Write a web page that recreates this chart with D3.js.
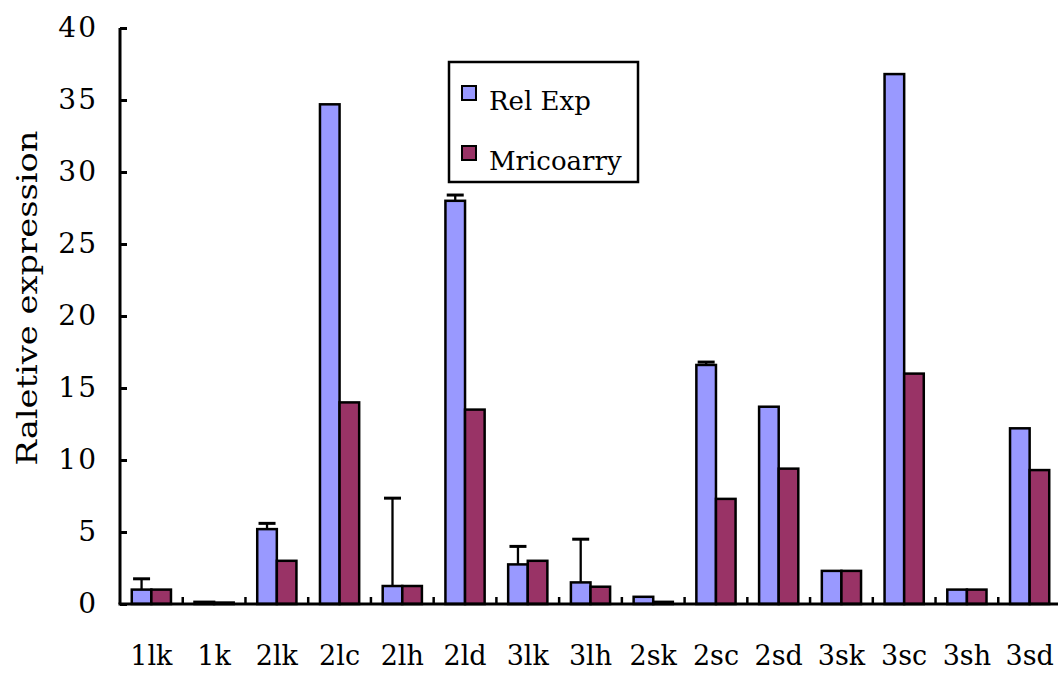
<!DOCTYPE html>
<html>
<head>
<meta charset="utf-8">
<script src="https://cdn.jsdelivr.net/npm/d3@7"></script>
<style>
  html, body { margin: 0; padding: 0; background: #fff; }
  svg { display: block; }
</style>
</head>
<body>
<svg id="chart" width="1058" height="673"></svg>
<script>
const categories = ["1lk", "1k", "2lk", "2lc", "2lh", "2ld", "3lk", "3lh", "2sk", "2sc", "2sd", "3sk", "3sc", "3sh", "3sd"];
const seriesNames = ["Rel Exp", "Mricoarry"];
const relExp = [1.0, 0.15, 5.2, 34.7, 1.25, 28.0, 2.75, 1.5, 0.5, 16.6, 13.7, 2.3, 36.8, 1.0, 12.2];
const microarray = [1.0, 0.1, 3.0, 14.0, 1.25, 13.5, 3.0, 1.2, 0.15, 7.3, 9.4, 2.3, 16.0, 1.0, 9.3];
const relExpErr = [0.75, 0, 0.4, 0, 6.1, 0.4, 1.25, 3.0, 0, 0.2, 0, 0, 0, 0, 0];
const yTicks = [0, 5, 10, 15, 20, 25, 30, 35, 40];

const COLORS = ["#9999ff", "#993366"];
const FONT = "'DejaVu Serif', 'Liberation Serif', serif";
const PLOT = { left: 120, right: 1061, top: 28, bottom: 604 };

const svg = d3.select("#chart");
svg.append("rect").attr("width", 1058).attr("height", 673).attr("fill", "#fff");

const xScale = d3.scaleBand().domain(categories).range([PLOT.left, PLOT.right]);
const xSub = d3.scaleBand().domain(seriesNames).range([0, xScale.bandwidth()]).paddingOuter(0.6);
const yScale = d3.scaleLinear().domain([0, 40]).range([PLOT.bottom, PLOT.top]);

const rows = categories.map((c, i) => ({
  cat: c,
  vals: [
    { name: seriesNames[0], v: relExp[i], err: relExpErr[i], k: 0 },
    { name: seriesNames[1], v: microarray[i], err: 0, k: 1 }
  ]
}));

// Bars
const groups = svg.append("g").selectAll("g").data(rows).enter().append("g")
  .attr("transform", d => `translate(${xScale(d.cat)},0)`);
groups.selectAll("rect").data(d => d.vals).enter().append("rect")
  .attr("x", d => xSub(d.name))
  .attr("y", d => yScale(d.v))
  .attr("width", xSub.bandwidth())
  .attr("height", d => yScale(0) - yScale(d.v))
  .attr("fill", d => COLORS[d.k])
  .attr("stroke", "#000")
  .attr("stroke-width", 2.5);

// Error bars (Rel Exp only)
const errs = groups.selectAll("g.err").data(d => d.vals.filter(v => v.err > 0)).enter().append("g").attr("class", "err");
errs.append("line")
  .attr("x1", d => xSub(d.name) + xSub.bandwidth() / 2)
  .attr("x2", d => xSub(d.name) + xSub.bandwidth() / 2)
  .attr("y1", d => yScale(d.v))
  .attr("y2", d => yScale(d.v + d.err))
  .attr("stroke", "#000").attr("stroke-width", 2.3);
errs.append("line")
  .attr("x1", d => xSub(d.name) + xSub.bandwidth() / 2 - 8.5)
  .attr("x2", d => xSub(d.name) + xSub.bandwidth() / 2 + 8.5)
  .attr("y1", d => yScale(d.v + d.err))
  .attr("y2", d => yScale(d.v + d.err))
  .attr("stroke", "#000").attr("stroke-width", 3);

// Y axis
const yAxis = d3.axisLeft(yScale).tickValues(yTicks).tickSize(-7).tickPadding(22);
const y = svg.append("g").attr("transform", `translate(${PLOT.left},0)`).call(yAxis);
y.select(".domain").attr("stroke-width", 3).attr("d", `M0,${PLOT.top}V${PLOT.bottom}`);
y.selectAll("line").attr("stroke-width", 3);
y.selectAll("text").attr("font-family", FONT).attr("font-size", 28)
  .attr("letter-spacing", 2).attr("fill", "#000");

// X axis: line plus boundary ticks between categories
const x = svg.append("g");
x.append("line")
  .attr("x1", PLOT.left - 1.5).attr("x2", PLOT.right)
  .attr("y1", PLOT.bottom).attr("y2", PLOT.bottom)
  .attr("stroke", "#000").attr("stroke-width", 3);
x.selectAll("line.tk").data(categories.slice(1)).enter().append("line").attr("class", "tk")
  .attr("x1", d => xScale(d)).attr("x2", d => xScale(d))
  .attr("y1", PLOT.bottom).attr("y2", PLOT.bottom - 7)
  .attr("stroke", "#000").attr("stroke-width", 2.5);
x.selectAll("text").data(categories).enter().append("text")
  .attr("x", d => xScale(d) + xScale.bandwidth() / 2)
  .attr("y", 665)
  .attr("text-anchor", "middle")
  .attr("font-family", FONT).attr("font-size", 27)
  .text(d => d);

// Y title
svg.append("text")
  .attr("transform", "translate(37,298) rotate(-90)")
  .attr("text-anchor", "middle")
  .attr("font-family", FONT).attr("font-size", 27)
  .attr("textLength", 335).attr("lengthAdjust", "spacingAndGlyphs")
  .text("Raletive expression");

// Legend
const legend = svg.append("g");
legend.append("rect")
  .attr("x", 449).attr("y", 62).attr("width", 189).attr("height", 120)
  .attr("fill", "#fff").attr("stroke", "#000").attr("stroke-width", 2.5);
const items = legend.selectAll("g").data(seriesNames).enter().append("g")
  .attr("transform", (d, i) => `translate(0,${i * 60})`);
items.append("rect")
  .attr("x", 462).attr("y", 86).attr("width", 14).attr("height", 14)
  .attr("fill", (d, i) => COLORS[i]).attr("stroke", "#000").attr("stroke-width", 2);
items.append("text")
  .attr("x", 489).attr("y", 110)
  .attr("font-family", FONT).attr("font-size", 26)
  .text(d => d);
</script>
</body>
</html>
